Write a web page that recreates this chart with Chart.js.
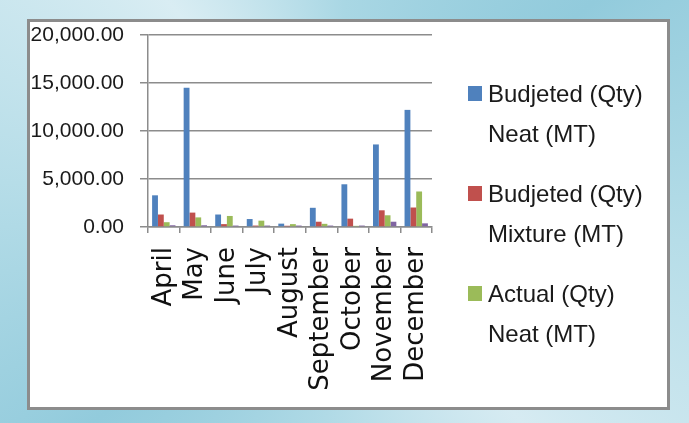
<!DOCTYPE html>
<html>
<head>
<meta charset="utf-8">
<script src="https://cdn.jsdelivr.net/npm/chart.js@4"></script>
<style>
  html, body { margin: 0; padding: 0; }
  body {
    width: 689px; height: 423px; overflow: hidden; position: relative;
    background: conic-gradient(from 0deg at 50% 50%,
      #a9d7e4 0deg, #92cbdc 50deg, #b6dde8 95deg, #d6ebf2 140deg,
      #b0dae6 185deg, #92cbdc 230deg, #b6dde8 275deg, #d9edf3 320deg, #a9d7e4 360deg);
  }
  #frame {
    position: absolute; left: 27px; top: 19px; width: 643px; height: 391px;
    box-sizing: border-box; background: #fff; border: 3px solid #8c8c8c;
  }
  #wrap { position: absolute; left: 0; top: 0; width: 689px; height: 423px; }
</style>
</head>
<body>
<div id="frame"></div>
<div id="wrap"><canvas id="chart" width="689" height="423"></canvas></div>
<script>
// ---- data ----
const months = ["April", "May", "June", "July", "August", "September", "October", "November", "December"];

const budgetedNeat    = [3300, 14500, 1300, 830, 350, 2000, 4450, 8600, 12200];
const budgetedMixture = [1300, 1500, 300, 150, 130, 550, 870, 1740, 2030];
const actualNeat      = [500, 1000, 1150, 660, 300, 330, 120, 1220, 3700];
const actualMixture   = [180, 180, 150, 150, 150, 150, 150, 550, 380];

const seriesNames = [
  ["Budjeted (Qty)", "Neat (MT)"],
  ["Budjeted (Qty)", "Mixture (MT)"],
  ["Actual (Qty)", "Neat (MT)"],
  ["Actual (Qty)", "Mixture (MT)"]
];
const seriesColors = ["#4f81bd", "#c0504d", "#9bbb59", "#8064a2"];
const legendShown = 3;   // fourth entry is clipped off in the original

const yTicks = [0, 5000, 10000, 15000, 20000];

// legend drawn on the right, two lines per entry
const sideLegend = {
  id: "sideLegend",
  afterDraw(chart) {
    const ctx = chart.ctx;
    ctx.save();
    ctx.font = "24px 'Liberation Sans', Arial, sans-serif";
    ctx.textBaseline = "alphabetic";
    ctx.textAlign = "left";
    chart.data.datasets.slice(0, legendShown).forEach((ds, i) => {
      const base = 102 + i * 100;
      ctx.fillStyle = ds.backgroundColor;
      ctx.fillRect(468, base - 16, 14, 15);
      ctx.fillStyle = "#1a1a1a";
      ds.labelLines.forEach((line, j) => ctx.fillText(line, 488, base + j * 40));
    });
    ctx.restore();
  }
};

const datasets = [budgetedNeat, budgetedMixture, actualNeat, actualMixture].map((vals, i) => ({
  label: seriesNames[i].join(" "),
  labelLines: seriesNames[i],
  data: vals,
  backgroundColor: seriesColors[i],
  borderWidth: 0,
  barPercentage: 1,
  categoryPercentage: 0.74
}));

new Chart(document.getElementById("chart").getContext("2d"), {
  type: "bar",
  data: { labels: months, datasets },
  options: {
    responsive: false,
    animation: false,
    layout: { padding: { left: 0, top: 35, right: 257, bottom: 0 } },
    plugins: {
      legend: { display: false },
      tooltip: { enabled: false }
    },
    scales: {
      x: {
        afterFit: (axis) => { axis.height = 196; },
        grid: {
          offset: true,
          drawOnChartArea: false,
          drawTicks: true,
          tickLength: 6,
          color: "#8c8c8c",
          lineWidth: 1.5
        },
        border: { display: true, color: "#8c8c8c", width: 1.5 },
        ticks: {
          autoSkip: false,
          minRotation: 90,
          maxRotation: 90,
          padding: 14,
          color: "#111",
          font: { family: "'DejaVu Sans', sans-serif", size: 26 }
        }
      },
      y: {
        min: 0,
        max: 20000,
        afterFit: (axis) => { axis.width = 148; },
        afterBuildTicks: (axis) => { axis.ticks = yTicks.map(v => ({ value: v })); },
        grid: {
          color: "#8c8c8c",
          lineWidth: 1.5,
          drawTicks: true,
          tickLength: 8
        },
        border: { display: true, color: "#8c8c8c", width: 1.5 },
        ticks: {
          padding: 16,
          color: "#1a1a1a",
          font: { family: "'Liberation Sans', Arial, sans-serif", size: 21 },
          callback: (v) => Number(v).toLocaleString("en-US", { minimumFractionDigits: 2, maximumFractionDigits: 2 })
        }
      }
    }
  },
  plugins: [sideLegend]
});
</script>
</body>
</html>
